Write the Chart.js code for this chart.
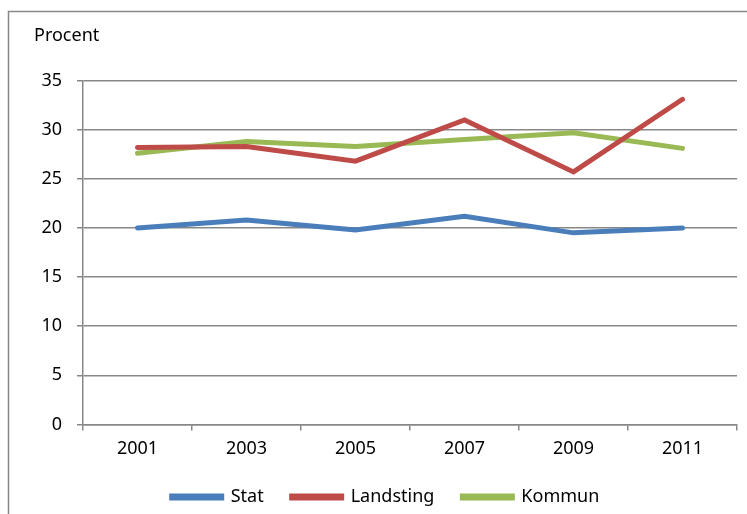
<!DOCTYPE html>
<html>
<head>
<meta charset="utf-8">
<script src="https://cdn.jsdelivr.net/npm/chart.js@4.4.1/dist/chart.umd.min.js"></script>
<style>
  body { margin: 0; background: #fff; }
  #wrap { width: 747px; height: 514px; }
</style>
</head>
<body>
<div id="wrap"><canvas id="procentChart" width="747" height="514"></canvas></div>
<script>
const years = ['2001', '2003', '2005', '2007', '2009', '2011'];
const stat = [20.0, 20.8, 19.8, 21.2, 19.5, 20.0];
const landsting = [28.2, 28.3, 26.8, 31.0, 25.7, 33.1];
const kommun = [27.6, 28.8, 28.3, 29.0, 29.7, 28.1];

const gray = '#878787';
const fontFamily = '"Noto Sans", "Liberation Sans", sans-serif';

// outer frame of the chart object (only top and left edges are visible)
const framePlugin = {
    id: 'frame',
    beforeDraw(chart) {
        const ctx = chart.ctx;
        ctx.save();
        ctx.fillStyle = '#fff';
        ctx.fillRect(0, 0, chart.width, chart.height);
        ctx.strokeStyle = gray;
        ctx.lineWidth = 1.5;
        ctx.strokeRect(8.5, 11.5, 900, 700);
        ctx.restore();
    }
};

function makeSet(label, data, color) {
    return {
        label: label,
        data: data,
        borderColor: color,
        backgroundColor: color,
        borderWidth: 5,
        borderCapStyle: 'round',
        borderJoinStyle: 'miter',
        pointRadius: 0,
        tension: 0
    };
}

const ctx = document.getElementById('procentChart').getContext('2d');
const myChart = new Chart(ctx, {
    type: 'line',
    data: {
        labels: years,
        datasets: [
            makeSet('Stat', stat, '#4a7ebb'),
            makeSet('Landsting', landsting, '#be4b48'),
            makeSet('Kommun', kommun, '#98b954')
        ]
    },
    plugins: [framePlugin],
    options: {
        responsive: false,
        animation: false,
        layout: { padding: { left: 34, right: 10, top: 20, bottom: -2 } },
        plugins: {
            title: {
                display: true,
                text: 'Procent',
                align: 'start',
                color: '#000',
                font: { family: fontFamily, size: 18, weight: 'normal' },
                padding: { top: 5, bottom: 34 }
            },
            legend: {
                position: 'bottom',
                labels: {
                    color: '#000',
                    font: { family: fontFamily, size: 18 },
                    boxWidth: 50,
                    boxHeight: 2,
                    padding: 28
                }
            },
            tooltip: { enabled: false }
        },
        scales: {
            x: {
                offset: true,
                afterFit(scale) { scale.height -= 8; },
                grid: {
                    offset: true,
                    drawOnChartArea: false,
                    drawTicks: true,
                    tickLength: 6,
                    color: gray,
                    lineWidth: 1.5
                },
                border: { color: gray, width: 1.5 },
                ticks: {
                    color: '#000',
                    padding: 8,
                    maxRotation: 0,
                    font: { family: fontFamily, size: 18 }
                }
            },
            y: {
                min: 0,
                max: 35,
                afterFit(scale) { scale.width = 49; },
                grid: {
                    color: gray,
                    lineWidth: 1.5,
                    tickLength: 6
                },
                border: { color: gray, width: 1.5 },
                ticks: {
                    stepSize: 5,
                    color: '#000',
                    padding: 15,
                    font: { family: fontFamily, size: 18 }
                }
            }
        }
    }
});
</script>
</body>
</html>
